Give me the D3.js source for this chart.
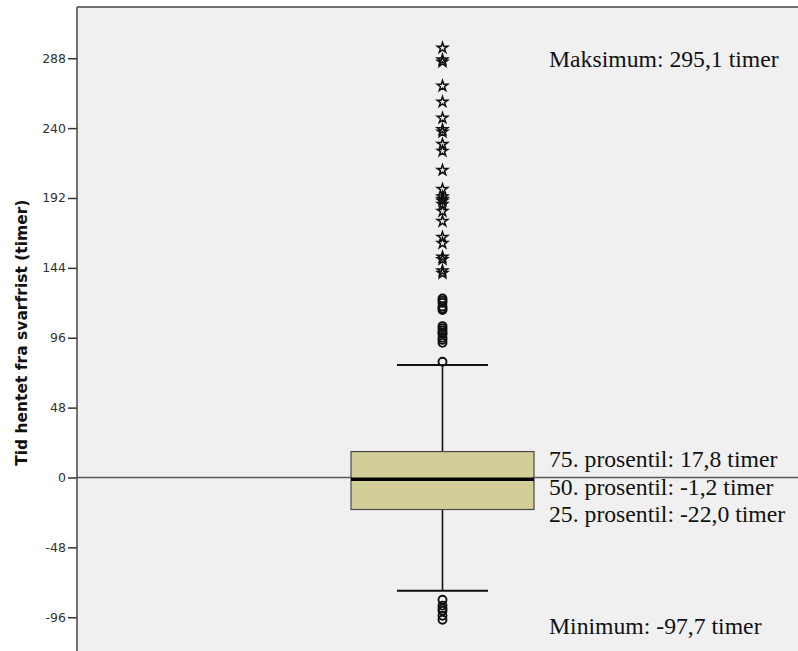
<!DOCTYPE html>
<html>
<head>
<meta charset="utf-8">
<script src="https://cdn.jsdelivr.net/npm/d3@7"></script>
<style>
  html, body { margin: 0; padding: 0; background: #fff; }
  svg { display: block; }
</style>
</head>
<body>
<svg id="chart" width="798" height="651"></svg>
<script>
// ---- data ----
const yTicks = [-96, -48, 0, 48, 96, 144, 192, 240, 288];
const boxStats = { q1: -22.0, median: -1.2, q3: 17.8, whiskerLow: -77.8, whiskerHigh: 77.2 };
const outlierCircles = [123.0, 121.5, 120.0, 117.5, 116.0, 115.0, 104.0, 102.5, 101.0, 99.5, 98.5, 96.0, 94.5, 92.5, 79.5, -84.0, -88.0, -90.0, -91.5, -95.0, -97.7];
const extremeStars = [295.1, 287.0, 285.5, 268.9, 258.0, 246.9, 239.0, 237.3, 229.0, 224.2, 211.1, 198.0, 192.8, 191.2, 190.0, 187.7, 182.9, 176.0, 165.0, 160.9, 151.5, 149.8, 142.0, 140.3];
const annotations = [
  "Maksimum: 295,1 timer",
  "75. prosentil: 17,8 timer",
  "50. prosentil: -1,2 timer",
  "25. prosentil: -22,0 timer",
  "Minimum: -97,7 timer"
];
const yLabel = "Tid hentet fra svarfrist (timer)";

// ---- layout ----
const plot = { left: 77, top: 7, right: 798, bottom: 651 };
const svg = d3.select("#chart");

const y = d3.scaleLinear().domain([-119.2, 323.2]).range([plot.bottom, plot.top]);
const cx = 442.5;
const boxHalf = 91.5, capHalf = 45.5;

// background
svg.append("rect").attr("x", plot.left).attr("y", plot.top)
  .attr("width", plot.right - plot.left).attr("height", plot.bottom - plot.top)
  .attr("fill", "#f0f0f0");

// zero reference line
svg.append("line")
  .attr("x1", plot.left).attr("x2", plot.right)
  .attr("y1", y(0)).attr("y2", y(0))
  .attr("stroke", "#5a5a5a").attr("stroke-width", 1.5);

// axis
const axis = d3.axisLeft(y).tickValues(yTicks).tickSize(9).tickPadding(2)
  .tickFormat(d => String(d));
const gAxis = svg.append("g").attr("transform", `translate(${plot.left},0)`).call(axis);
gAxis.select(".domain").remove();
gAxis.selectAll(".tick line").attr("stroke", "#333").attr("stroke-width", 1.5);
gAxis.selectAll(".tick text")
  .attr("fill", "#333")
  .style("font-family", "'DejaVu Sans', Verdana, sans-serif")
  .style("font-size", "12.5px");

// frame: left and top lines
svg.append("line").attr("x1", plot.left).attr("x2", plot.left)
  .attr("y1", plot.top).attr("y2", plot.bottom)
  .attr("stroke", "#444").attr("stroke-width", 1.5);
svg.append("line").attr("x1", plot.left).attr("x2", plot.right)
  .attr("y1", plot.top).attr("y2", plot.top)
  .attr("stroke", "#444").attr("stroke-width", 1.5);

// y label
svg.append("text")
  .attr("transform", `translate(27,${(y(-48) + y(240)) / 2 - 5}) rotate(-90)`)
  .attr("text-anchor", "middle")
  .style("font-family", "'DejaVu Sans', Verdana, sans-serif")
  .style("font-weight", "bold")
  .style("font-size", "15.5px")
  .attr("fill", "#111")
  .text(yLabel);

// whiskers
const wg = svg.append("g").attr("stroke", "#111").attr("stroke-width", 1.6);
wg.append("line").attr("x1", cx).attr("x2", cx).attr("y1", y(boxStats.q3)).attr("y2", y(boxStats.whiskerHigh));
wg.append("line").attr("x1", cx).attr("x2", cx).attr("y1", y(boxStats.q1)).attr("y2", y(boxStats.whiskerLow));
wg.append("line").attr("x1", cx - capHalf).attr("x2", cx + capHalf).attr("y1", y(boxStats.whiskerHigh)).attr("y2", y(boxStats.whiskerHigh)).attr("stroke-width", 2);
wg.append("line").attr("x1", cx - capHalf).attr("x2", cx + capHalf).attr("y1", y(boxStats.whiskerLow)).attr("y2", y(boxStats.whiskerLow)).attr("stroke-width", 2);

// box
svg.append("rect")
  .attr("x", cx - boxHalf).attr("width", boxHalf * 2)
  .attr("y", y(boxStats.q3)).attr("height", y(boxStats.q1) - y(boxStats.q3))
  .attr("fill", "#d3ce98").attr("stroke", "#4a4a4a").attr("stroke-width", 1.2);
svg.append("line")
  .attr("x1", cx - boxHalf).attr("x2", cx + boxHalf)
  .attr("y1", y(boxStats.median)).attr("y2", y(boxStats.median))
  .attr("stroke", "#000").attr("stroke-width", 3.6);

// outliers (circles)
svg.append("g").selectAll("circle").data(outlierCircles).join("circle")
  .attr("cx", cx).attr("cy", d => y(d)).attr("r", 4)
  .attr("fill", "none").attr("stroke", "#111").attr("stroke-width", 1.9);

// extremes (stars)
const star = d3.symbol().type(d3.symbolStar).size(34);
svg.append("g").selectAll("path").data(extremeStars).join("path")
  .attr("d", star)
  .attr("transform", d => `translate(${cx},${y(d)})`)
  .attr("fill", "none").attr("stroke", "#111").attr("stroke-width", 1.5);

// annotations
const annY = [67, 467, 495, 522, 634];
svg.append("g").selectAll("text").data(annotations).join("text")
  .attr("x", 549).attr("y", (d, i) => annY[i])
  .style("font-family", "'Liberation Serif', 'Times New Roman', serif")
  .style("font-size", "23.7px")
  .attr("fill", "#111")
  .text(d => d);
</script>
</body>
</html>
